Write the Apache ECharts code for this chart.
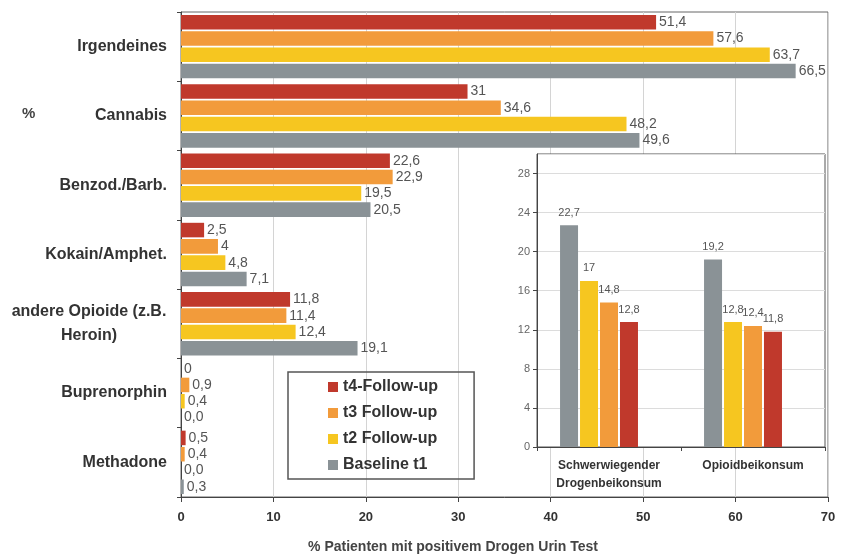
<!DOCTYPE html>
<html>
<head>
<meta charset="utf-8">
<script src="https://cdn.jsdelivr.net/npm/echarts@6/dist/echarts.min.js"></script>
<style>
  html, body { margin: 0; padding: 0; background: #ffffff; }
  #chart { width: 841px; height: 559px; }
</style>
</head>
<body>
<div id="chart"></div>
<script>
// Drug classes, top to bottom
const categories = ['Irgendeines', 'Cannabis', 'Benzod./Barb.', 'Kokain/Amphet.', 'andere Opioide (z.B.\nHeroin)', 'Buprenorphin', 'Methadone'];

// % of patients with a positive drug urine test, per wave (German decimal notation)
const t4Values = ['51,4', '31', '22,6', '2,5', '11,8', '0', '0,5'];
const t3Values = ['57,6', '34,6', '22,9', '4', '11,4', '0,9', '0,4'];
const t2Values = ['63,7', '48,2', '19,5', '4,8', '12,4', '0,4', '0,0'];
const t1Values = ['66,5', '49,6', '20,5', '7,1', '19,1', '0,0', '0,3'];

// Inset: additional consumption
const insetCategories = ['Schwerwiegender\nDrogenbeikonsum', 'Opioidbeikonsum'];
const insetT1 = ['22,7', '19,2'];
const insetT2 = ['17', '12,8'];
const insetT3 = ['14,8', '12,4'];
const insetT4 = ['12,8', '11,8'];

const seriesNames = ['t4-Follow-up', 't3 Follow-up', 't2 Follow-up', 'Baseline t1'];

// Axis ticks
const xMin = 0, xMax = 70, xStep = 10;
const insetMin = 0, insetMax = 30, insetStep = 4;

const FONT = "'Liberation Sans', Arial, Helvetica, sans-serif";
const COLORS = { t4: '#c0392c', t3: '#f29b3b', t2: '#f6c620', t1: '#8a9296' };

const toNum = s => parseFloat(s.replace(',', '.'));

function mainSeries(name, values, color) {
  return {
    type: 'bar', name: name, xAxisIndex: 0, yAxisIndex: 0,
    data: values.map(toNum),
    itemStyle: { color: color },
    barCategoryGap: '8.5%', barGap: '12%',
    label: {
      show: true, position: 'right', distance: 3,
      formatter: p => values[p.dataIndex],
      fontFamily: FONT, fontSize: 14, color: '#555'
    },
    z: 2
  };
}

function insetSeries(name, values, color) {
  return {
    type: 'bar', name: name, xAxisIndex: 1, yAxisIndex: 1,
    data: values.map(toNum),
    itemStyle: { color: color },
    barWidth: 18, barGap: '11%',
    label: {
      show: true, position: 'top', distance: 7,
      formatter: p => values[p.dataIndex],
      fontFamily: FONT, fontSize: 11, color: '#555'
    },
    z: 6
  };
}

const chart = echarts.init(document.getElementById('chart'), null, { renderer: 'canvas' });

const option = {
  animation: false,
  backgroundColor: '#ffffff',
  textStyle: { fontFamily: FONT },
  grid: [
    { left: 181, right: 13, top: 12, bottom: 62, show: true, borderColor: '#666', borderWidth: 1, backgroundColor: 'transparent', containLabel: false, z: 0 },
    { left: 537, right: 16, top: 154, bottom: 112, show: true, borderColor: '#555', borderWidth: 1, backgroundColor: '#ffffff', containLabel: false, z: 3 }
  ],
  xAxis: [
    {
      type: 'value', gridIndex: 0, min: xMin, max: xMax, interval: xStep,
      axisLine: { show: true, lineStyle: { color: '#444', width: 1 } },
      axisTick: { show: true, inside: false, length: 5, lineStyle: { color: '#444' } },
      axisLabel: { fontFamily: FONT, fontSize: 13, fontWeight: 'bold', color: '#333', margin: 14 },
      splitLine: { show: true, lineStyle: { color: '#d4d4d4', width: 1 } },
      name: '% Patienten mit positivem Drogen Urin Test',
      nameLocation: 'middle', nameGap: 43,
      nameTextStyle: { fontFamily: FONT, fontSize: 14, fontWeight: 'bold', color: '#444', padding: [0, 103, 0, 0] }
    },
    {
      type: 'category', gridIndex: 1, data: insetCategories,
      axisLine: { show: true, lineStyle: { color: '#444', width: 1 } },
      axisTick: { show: true, inside: false, length: 4, lineStyle: { color: '#444' } },
      axisLabel: { interval: 0, fontFamily: FONT, fontSize: 12, fontWeight: 'bold', color: '#333', margin: 10, lineHeight: 18 },
      splitLine: { show: false },
      z: 4
    }
  ],
  yAxis: [
    {
      type: 'category', gridIndex: 0, data: categories, inverse: true,
      axisLine: { show: true, lineStyle: { color: '#444', width: 1 } },
      axisTick: { show: true, inside: false, length: 4, lineStyle: { color: '#444' } },
      axisLabel: {
        interval: 0, margin: 14,
        fontFamily: FONT, fontSize: 16, fontWeight: 'bold', color: '#333',
        formatter: v => v.indexOf('\n') >= 0 ? v.split('\n').map(s => '{c|' + s + '}').join('\n') : v,
        rich: { c: { width: 156, align: 'center', fontFamily: FONT, fontSize: 16, fontWeight: 'bold', color: '#333', lineHeight: 24 } }
      },
      splitLine: { show: false }
    },
    {
      type: 'value', gridIndex: 1, min: insetMin, max: insetMax, interval: insetStep,
      axisLine: { show: true, lineStyle: { color: '#444', width: 1 } },
      axisTick: { show: true, inside: false, length: 4, lineStyle: { color: '#444' } },
      axisLabel: { fontFamily: FONT, fontSize: 11, color: '#666', margin: 7, showMaxLabel: false },
      splitLine: { show: true, lineStyle: { color: '#dcdcdc', width: 1 } },
      z: 4
    }
  ],
  legend: {
    data: seriesNames,
    orient: 'vertical', left: 288, top: 372,
    padding: [7, 36, 6, 40],
    itemGap: 10, itemWidth: 10, itemHeight: 10, icon: 'rect',
    borderColor: '#555', borderWidth: 1.5,
    textStyle: { fontFamily: FONT, fontSize: 16, fontWeight: 'bold', color: '#333', lineHeight: 16 }
  },
  graphic: [
    { type: 'text', left: 22, top: 106, style: { text: '%', fontFamily: FONT, fontSize: 15, fontWeight: 'bold', fill: '#444' } }
  ],
  series: [
    mainSeries(seriesNames[0], t4Values, COLORS.t4),
    mainSeries(seriesNames[1], t3Values, COLORS.t3),
    mainSeries(seriesNames[2], t2Values, COLORS.t2),
    mainSeries(seriesNames[3], t1Values, COLORS.t1),
    insetSeries(seriesNames[3], insetT1, COLORS.t1),
    insetSeries(seriesNames[2], insetT2, COLORS.t2),
    insetSeries(seriesNames[1], insetT3, COLORS.t3),
    insetSeries(seriesNames[0], insetT4, COLORS.t4),
    // empty fifth slot in each inset group
    { type: 'bar', name: 'slot', xAxisIndex: 1, yAxisIndex: 1, data: insetCategories.map(() => '-'), barWidth: 18, barGap: '11%', z: 6 }
  ]
};

chart.setOption(option);
</script>
</body>
</html>
